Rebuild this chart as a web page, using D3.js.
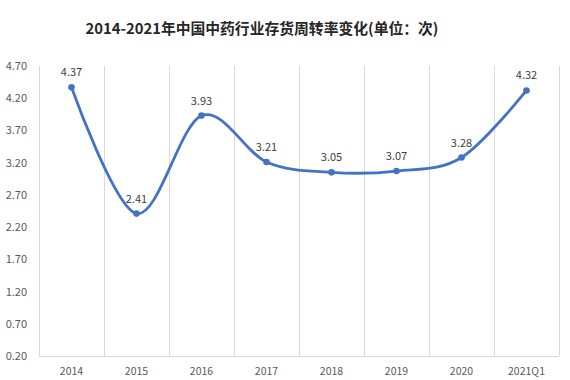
<!DOCTYPE html>
<html><head><meta charset="utf-8">
<script src="https://cdn.jsdelivr.net/npm/d3@7"></script>
<style>body{margin:0;background:#fff}svg{display:block}</style>
</head><body>
<svg id="c" width="570" height="380"></svg>
<script>
const title = "2014-2021年中国中药行业存货周转率变化(单位：次)";
const categories = ["2014","2015","2016","2017","2018","2019","2020","2021Q1"];
const values = [4.37,2.41,3.93,3.21,3.05,3.07,3.28,4.32];
const yTicks = [0.20,0.70,1.20,1.70,2.20,2.70,3.20,3.70,4.20,4.70];

const svg = d3.select("#c");
const m = {l:39, r:559, t:66, b:356};
const x = d3.scaleBand().domain(categories).range([m.l, m.r]);
const y = d3.scaleLinear().domain([0.2, 4.7]).range([m.b, m.t]);
const font = "'Microsoft YaHei','Noto Sans CJK SC',sans-serif";

svg.append("text").attr("x",262).attr("y",34).attr("text-anchor","middle")
  .attr("font-family",font).attr("font-size",14.8).attr("font-weight","bold")
  .attr("fill","#262626").text(title);

// vertical gridlines at band edges
const edges = categories.map(c=>x(c)).concat([m.r]);
svg.append("g").selectAll("line").data(edges).join("line")
  .attr("x1",d=>d+0.5).attr("x2",d=>d+0.5).attr("y1",m.t).attr("y2",m.b)
  .attr("stroke","#d9d9d9").attr("stroke-width",1);
svg.append("line").attr("x1",m.l).attr("x2",m.r).attr("y1",m.b+0.5).attr("y2",m.b+0.5)
  .attr("stroke","#d9d9d9");

// y axis labels
const ya = svg.append("g").attr("transform",`translate(${m.l-12},0)`)
  .call(d3.axisLeft(y).tickValues(yTicks).tickFormat(d3.format(".2f")).tickSize(0).tickPadding(0));
ya.select(".domain").remove();
ya.selectAll("text").attr("font-family",font).attr("font-size",11).attr("fill","#595959");

// x axis labels
const xa = svg.append("g").attr("transform",`translate(0,${m.b+10})`)
  .call(d3.axisBottom(x).tickSize(0).tickPadding(0));
xa.select(".domain").remove();
xa.selectAll("text").attr("font-family",font).attr("font-size",10.5).attr("fill","#595959").attr("dy","0.9em");

const cx = c => x(c) + x.bandwidth()/2;
const line = d3.line().x((d,i)=>cx(categories[i])).y(d=>y(d)).curve(d3.curveCardinal.tension(0));
svg.append("path").datum(values).attr("d",line).attr("fill","none")
  .attr("stroke","#4472c4").attr("stroke-width",2.8).attr("stroke-linecap","round");

svg.append("g").selectAll("circle").data(values).join("circle")
  .attr("cx",(d,i)=>cx(categories[i])).attr("cy",d=>y(d)).attr("r",3.3)
  .attr("fill","#4472c4");

svg.append("g").selectAll("text").data(values).join("text")
  .attr("x",(d,i)=>cx(categories[i])).attr("y",d=>y(d)-11)
  .attr("text-anchor","middle").attr("font-family",font).attr("font-size",11)
  .attr("fill","#404040").text(d=>d.toFixed(2));
</script>
</body></html>
